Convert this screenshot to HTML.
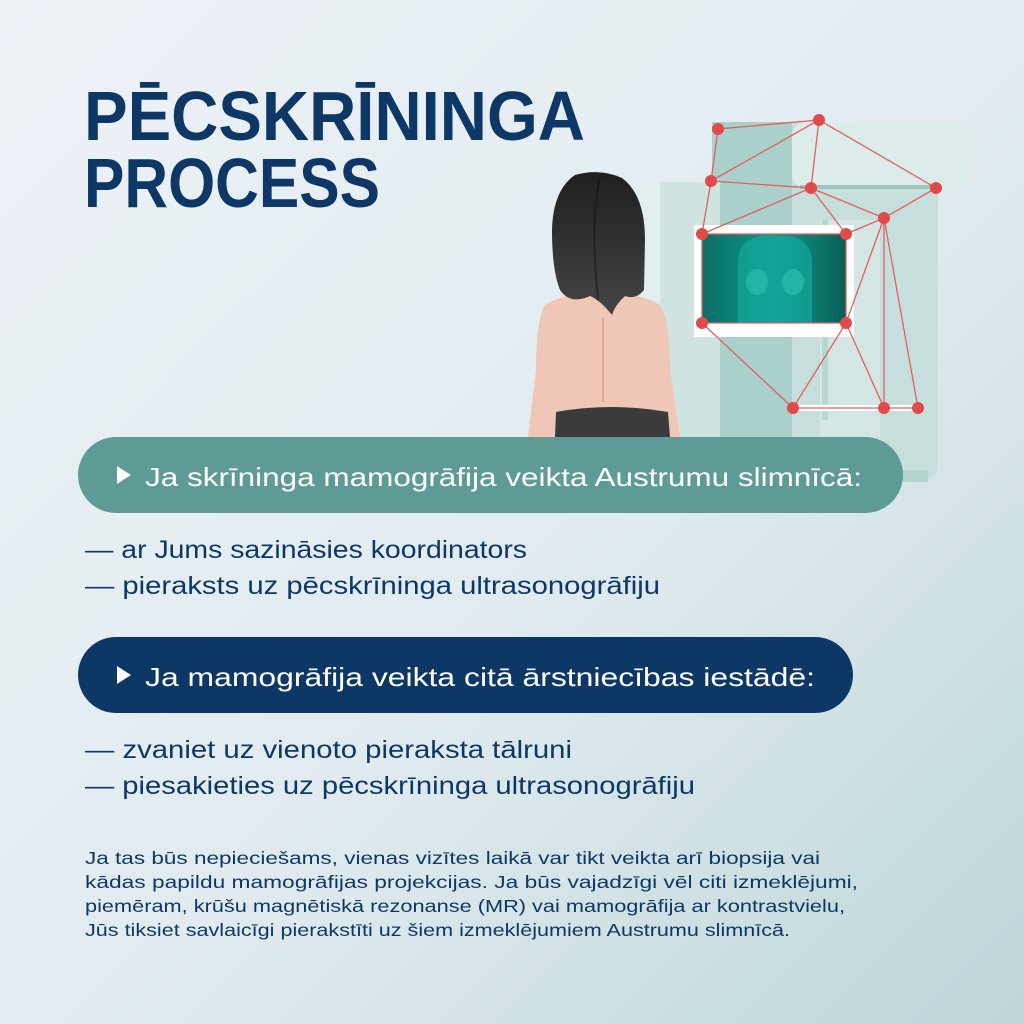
<!DOCTYPE html>
<html><head><meta charset="utf-8"><style>
html,body{margin:0;padding:0;width:1024px;height:1024px;overflow:hidden}
svg{display:block}
text{font-family:"Liberation Sans",sans-serif}
</style></head><body>
<svg width="1024" height="1024" viewBox="0 0 1024 1024" xmlns="http://www.w3.org/2000/svg">
<defs>
<linearGradient id="bg" x1="0" y1="0" x2="1" y2="1">
<stop offset="0" stop-color="#edf2f7"/><stop offset="0.55" stop-color="#e1ebef"/><stop offset="1" stop-color="#bcd6d8"/>
</linearGradient>
<linearGradient id="hair" x1="0" y1="0" x2="0" y2="1"><stop offset="0" stop-color="#1f1f1f"/><stop offset="1" stop-color="#454545"/></linearGradient>
<linearGradient id="scr" x1="0" y1="0" x2="1" y2="0"><stop offset="0" stop-color="#0b6e66"/><stop offset="0.5" stop-color="#0e9a8e"/><stop offset="1" stop-color="#0a5e57"/></linearGradient>
</defs>
<rect width="1024" height="1024" fill="url(#bg)"/>

<!-- machine -->
<rect x="712" y="122" width="226" height="358" rx="14" fill="#c7dfdc"/>
<rect x="712" y="122" width="80" height="358" fill="#a9d0cb"/>
<rect x="792" y="122" width="175" height="66" rx="14" fill="#dceceb"/>
<rect x="800" y="185" width="138" height="4" fill="#9cc4bf"/>
<rect x="820" y="220" width="60" height="260" fill="#d3e6e4"/>
<rect x="822" y="220" width="6" height="200" fill="#b8d6d2"/>
<path d="M640 437 L640 215 Q640 182 675 182 L720 182 L720 437 Z" fill="#e3efee"/>
<rect x="660" y="182" width="60" height="255" fill="#cfe4e1"/>
<rect x="793" y="405" width="125" height="6" fill="#ffffff"/>
<rect x="880" y="470" width="48" height="12" fill="#b3d3cf"/>

<!-- screen -->
<rect x="694" y="225" width="160" height="112" fill="#ffffff"/>
<rect x="702" y="234" width="144" height="89" fill="url(#scr)"/>
<path d="M738 323 L738 260 Q740 240 760 236 L790 236 Q810 240 812 260 L812 323 Z" fill="#14a89b" opacity="0.7"/>
<ellipse cx="757" cy="282" rx="11" ry="13" fill="#25b3a6"/>
<ellipse cx="793" cy="282" rx="11" ry="13" fill="#25b3a6"/>

<!-- woman -->
<path d="M545 305 Q565 292 600 294 Q640 292 660 305 Q670 320 670 370 L680 437 L528 437 L536 370 Q536 320 545 305 Z" fill="#f0c6b6"/>
<path d="M556 412 Q610 402 668 412 L670 437 L555 437 Z" fill="#3b3b3b"/>
<path d="M575 175 Q600 168 622 178 Q645 195 645 240 L644 290 Q636 300 625 296 Q615 305 612 315 Q600 300 590 296 Q570 305 560 290 Q552 270 552 230 Q553 190 575 175 Z" fill="url(#hair)"/>
<path d="M600 178 Q590 220 598 300" stroke="#111" stroke-width="2" fill="none" opacity="0.5"/>
<line x1="603" y1="318" x2="603" y2="402" stroke="#e3a895" stroke-width="2"/>

<!-- network -->
<g stroke="#e06060" stroke-width="1.3" fill="none">
<line x1="718" y1="129" x2="819" y2="120"/><line x1="718" y1="129" x2="711" y2="181"/>
<line x1="711" y1="181" x2="819" y2="120"/><line x1="819" y1="120" x2="811" y2="188"/>
<line x1="819" y1="120" x2="936" y2="188"/><line x1="711" y1="181" x2="811" y2="188"/>
<line x1="711" y1="181" x2="702" y2="234"/><line x1="702" y1="234" x2="811" y2="188"/>
<line x1="811" y1="188" x2="846" y2="234"/><line x1="811" y1="188" x2="884" y2="218"/>
<line x1="884" y1="218" x2="936" y2="188"/><line x1="884" y1="218" x2="846" y2="234"/>
<line x1="702" y1="234" x2="846" y2="234"/><line x1="702" y1="234" x2="702" y2="323"/>
<line x1="846" y1="234" x2="846" y2="323"/><line x1="702" y1="323" x2="846" y2="323"/>
<line x1="702" y1="323" x2="793" y2="408"/><line x1="846" y1="323" x2="793" y2="408"/>
<line x1="846" y1="323" x2="884" y2="408"/><line x1="884" y1="218" x2="884" y2="408"/>
<line x1="884" y1="218" x2="918" y2="408"/><line x1="884" y1="218" x2="846" y2="323"/>
<line x1="793" y1="408" x2="918" y2="408"/>
</g>
<g fill="#e04a4a">
<circle cx="718" cy="129" r="6"/><circle cx="819" cy="120" r="6"/><circle cx="711" cy="181" r="6"/>
<circle cx="811" cy="188" r="6"/><circle cx="936" cy="188" r="6"/><circle cx="884" cy="218" r="6"/>
<circle cx="702" cy="234" r="6"/><circle cx="846" cy="234" r="6"/><circle cx="702" cy="323" r="6"/>
<circle cx="846" cy="323" r="6"/><circle cx="793" cy="408" r="6"/><circle cx="884" cy="408" r="6"/>
<circle cx="918" cy="408" r="6"/>
</g>

<!-- title -->
<g fill="#0d3866" font-weight="bold" font-size="70">
<text x="84" y="140" textLength="501" lengthAdjust="spacingAndGlyphs">PĒCSKRĪNINGA</text>
<text x="84" y="207" textLength="296" lengthAdjust="spacingAndGlyphs">PROCESS</text>
</g>

<!-- pills -->
<rect x="78" y="437" width="825" height="76" rx="38" fill="#5e9b96"/>
<path d="M117 466 L131 475 L117 484 Z" fill="#fff"/>
<text x="145" y="486" font-size="26" fill="#fff" textLength="717" lengthAdjust="spacingAndGlyphs">Ja skrīninga mamogrāfija veikta Austrumu slimnīcā:</text>

<rect x="78" y="637" width="775" height="76" rx="38" fill="#0d3865"/>
<path d="M117 666 L131 675 L117 684 Z" fill="#fff"/>
<text x="145" y="686" font-size="26" fill="#fff" textLength="670" lengthAdjust="spacingAndGlyphs">Ja mamogrāfija veikta citā ārstniecības iestādē:</text>

<!-- bullets -->
<g fill="#0d3866" font-size="25">
<text x="85" y="558" textLength="442" lengthAdjust="spacingAndGlyphs">— ar Jums sazināsies koordinators</text>
<text x="85" y="594" textLength="575" lengthAdjust="spacingAndGlyphs">— pieraksts uz pēcskrīninga ultrasonogrāfiju</text>
<text x="85" y="758" textLength="487" lengthAdjust="spacingAndGlyphs">— zvaniet uz vienoto pieraksta tālruni</text>
<text x="85" y="794" textLength="610" lengthAdjust="spacingAndGlyphs">— piesakieties uz pēcskrīninga ultrasonogrāfiju</text>
</g>

<!-- paragraph -->
<g fill="#0d3866" font-size="17.5">
<text x="85" y="864" textLength="735" lengthAdjust="spacingAndGlyphs">Ja tas būs nepieciešams, vienas vizītes laikā var tikt veikta arī biopsija vai</text>
<text x="85" y="888" textLength="773" lengthAdjust="spacingAndGlyphs">kādas papildu mamogrāfijas projekcijas. Ja būs vajadzīgi vēl citi izmeklējumi,</text>
<text x="85" y="912" textLength="760" lengthAdjust="spacingAndGlyphs">piemēram, krūšu magnētiskā rezonanse (MR) vai mamogrāfija ar kontrastvielu,</text>
<text x="85" y="936" textLength="705" lengthAdjust="spacingAndGlyphs">Jūs tiksiet savlaicīgi pierakstīti uz šiem izmeklējumiem Austrumu slimnīcā.</text>
</g>
</svg>
</body></html>
